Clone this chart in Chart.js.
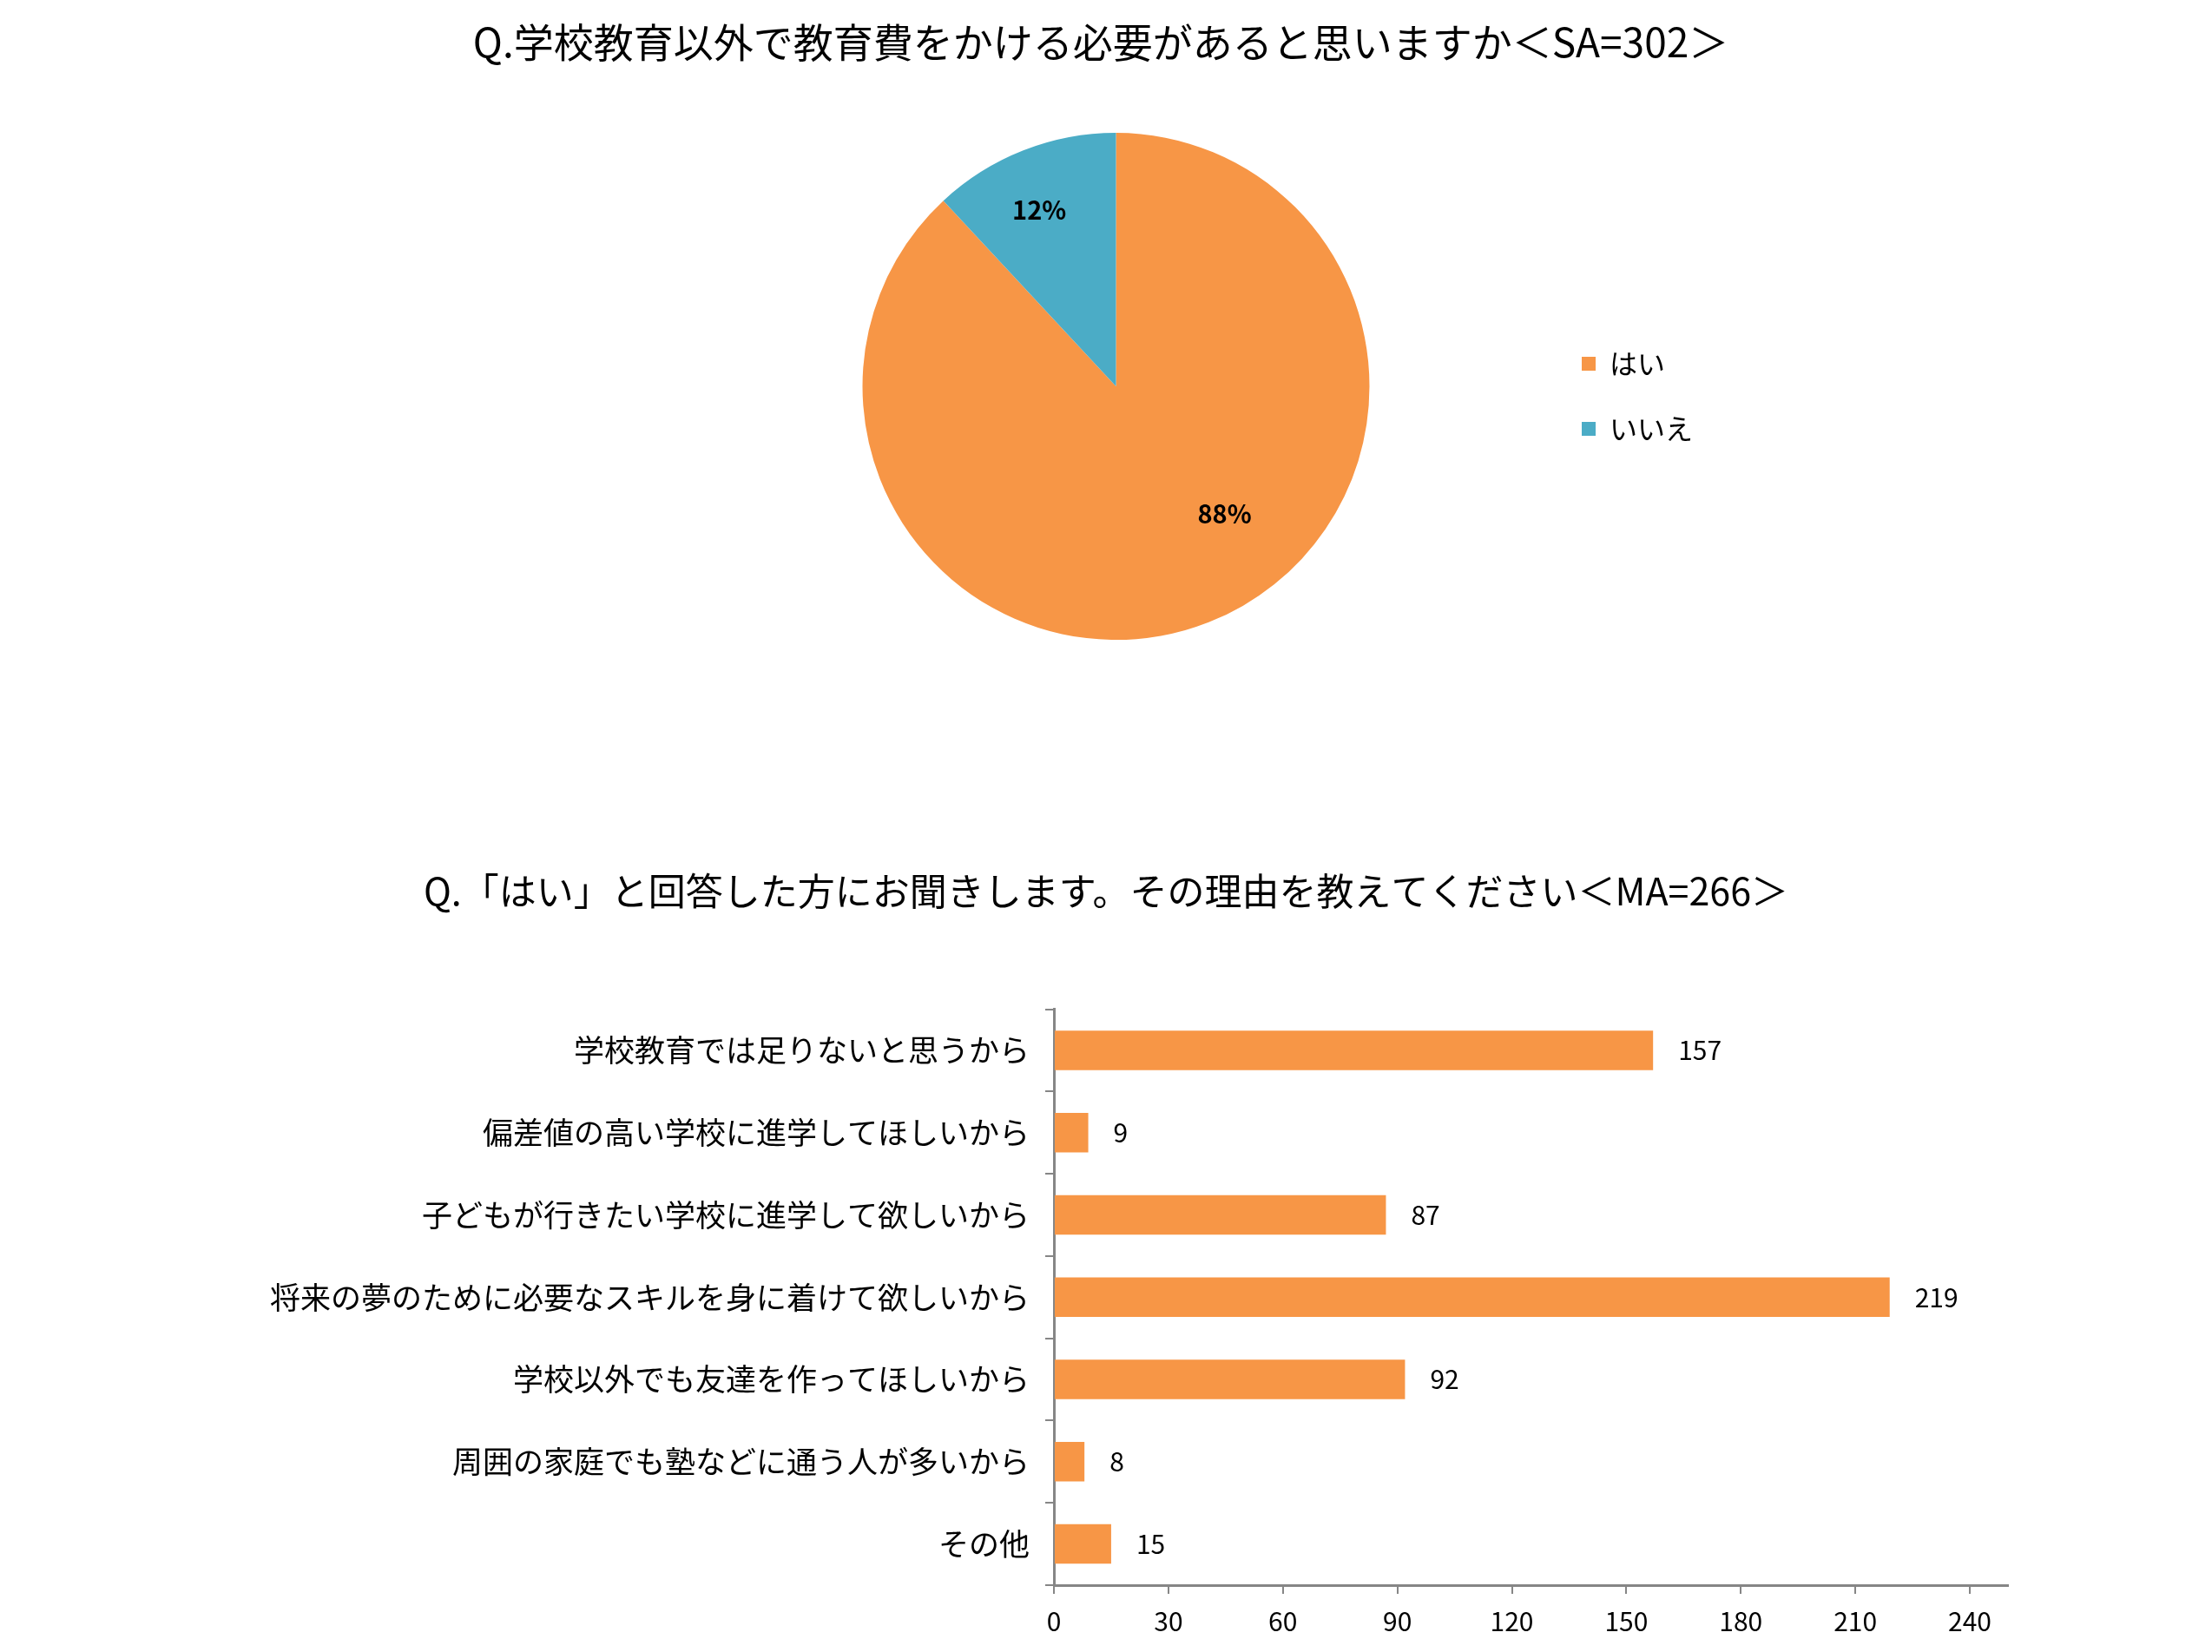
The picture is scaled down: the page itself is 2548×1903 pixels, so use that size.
<!DOCTYPE html>
<html lang="ja">
<head>
<meta charset="utf-8">
<title>教育費アンケート</title>
<script src="https://cdn.jsdelivr.net/npm/chart.js@4.4.1/dist/chart.umd.min.js"></script>
<style>
  html, body { margin: 0; padding: 0; background: #fff; }
  body { width: 2548px; height: 1903px; position: relative; overflow: hidden; }
  canvas { position: absolute; }
  #pie-chart { left: 500px; top: 0; }
  #bar-chart { left: 0; top: 980px; }
</style>
</head>
<body>
<canvas id="pie-chart" width="1536" height="814"></canvas>
<canvas id="bar-chart" width="2548" height="923"></canvas>
<script>
var JP = '"Noto Sans CJK JP", "Noto Sans", sans-serif';

// Q1 (SA=302)
var pieTitle = 'Q.学校教育以外で教育費をかける必要があると思いますか＜SA=302＞';
var pieLabels = ['はい', 'いいえ'];
var pieValues = [266, 36];
var pieColors = ['#F79646', '#4BACC6'];

// Q2 (MA=266)
var barTitle = 'Q.「はい」と回答した方にお聞きします。その理由を教えてください＜MA=266＞';
var barLabels = [
  '学校教育では足りないと思うから',
  '偏差値の高い学校に進学してほしいから',
  '子どもが行きたい学校に進学して欲しいから',
  '将来の夢のために必要なスキルを身に着けて欲しいから',
  '学校以外でも友達を作ってほしいから',
  '周囲の家庭でも塾などに通う人が多いから',
  'その他'
];
var barValues = [157, 9, 87, 219, 92, 8, 15];
var xMax = 250;
var xStep = 30;

var axisGray = '#868686';

// percent labels inside the slices
var pieLabelPlugin = {
  id: 'pieLabels',
  afterDatasetsDraw: function (chart, args, opts) {
    var ctx = chart.ctx;
    var meta = chart.getDatasetMeta(0);
    var values = chart.data.datasets[0].data;
    var total = values.reduce(function (a, b) { return a + b; }, 0);
    ctx.save();
    ctx.font = opts.font;
    ctx.fillStyle = opts.color;
    ctx.textAlign = 'center';
    ctx.textBaseline = 'middle';
    meta.data.forEach(function (arc, i) {
      var p = arc.getProps(['x', 'y', 'startAngle', 'endAngle', 'outerRadius'], true);
      var place = opts.placement[i];
      var a = (p.startAngle + p.endAngle) / 2 + place.shift * Math.PI / 180;
      var r = p.outerRadius * place.frac;
      ctx.fillText(Math.round(values[i] / total * 100) + '%', p.x + Math.cos(a) * r, p.y + Math.sin(a) * r);
    });
    ctx.restore();
  }
};

// nudges the plot area and the legend sideways so they sit like the original
// (the title keeps the whole canvas width)
var shiftAreaPlugin = {
  id: 'shiftArea',
  afterLayout: function (chart, args, opts) {
    chart.chartArea.left += opts.areaDx;
    chart.chartArea.right += opts.areaDx;
    if (chart.legend) {
      chart.legend.left += opts.legendDx;
      chart.legend.right += opts.legendDx;
    }
  }
};

// value labels at the end of the bars
var barValuePlugin = {
  id: 'barValues',
  afterDatasetsDraw: function (chart, args, opts) {
    var ctx = chart.ctx;
    var meta = chart.getDatasetMeta(0);
    var values = chart.data.datasets[0].data;
    ctx.save();
    ctx.font = opts.font;
    ctx.fillStyle = opts.color;
    ctx.textAlign = 'left';
    ctx.textBaseline = 'middle';
    meta.data.forEach(function (bar, i) {
      ctx.fillText(String(values[i]), bar.x + opts.gap, bar.y);
    });
    ctx.restore();
  }
};

var pieChart = new Chart(document.getElementById('pie-chart'), {
  type: 'pie',
  data: {
    labels: pieLabels,
    datasets: [{
      data: pieValues,
      backgroundColor: pieColors,
      borderWidth: 0,
      radius: 292
    }]
  },
  options: {
    responsive: false,
    animation: false,
    events: [],
    plugins: {
      title: {
        display: true,
        text: pieTitle,
        color: '#000',
        font: { family: JP, size: 46, weight: 'normal' },
        padding: { top: 21, bottom: 0 }
      },
      legend: {
        display: true,
        position: 'right',
        align: 'center',
        title: {
          display: true,
          text: ' ',
          font: { size: 10 },
          padding: { top: 87, bottom: 0 }
        },
        labels: {
          color: '#000',
          font: { family: JP, size: 32 },
          boxWidth: 16,
          boxHeight: 16,
          padding: 43
        }
      },
      tooltip: { enabled: false },
      shiftArea: { areaDx: 108, legendDx: -76 },
      pieLabels: {
        font: 'bold 29px ' + JP,
        color: '#000',
        placement: [{ shift: -19, frac: 0.66 }, { shift: -2, frac: 0.76 }]
      }
    }
  },
  plugins: [shiftAreaPlugin, pieLabelPlugin]
});

var barChart = new Chart(document.getElementById('bar-chart'), {
  type: 'bar',
  data: {
    labels: barLabels,
    datasets: [{
      data: barValues,
      backgroundColor: '#F79646',
      borderWidth: 0,
      categoryPercentage: 1,
      barPercentage: 0.48
    }]
  },
  options: {
    indexAxis: 'y',
    responsive: false,
    animation: false,
    events: [],
    layout: { padding: { right: 235, left: 235, top: 0, bottom: 0 } },
    scales: {
      x: {
        min: 0,
        max: xMax,
        afterFit: function (scale) { scale.height = 77; },
        ticks: {
          stepSize: xStep,
          includeBounds: false,
          color: '#000',
          font: { family: JP, size: 30 },
          padding: 14,
          maxRotation: 0
        },
        grid: {
          drawOnChartArea: false,
          drawTicks: true,
          tickLength: 10,
          color: axisGray,
          lineWidth: 2
        },
        border: { display: true, color: axisGray, width: 3 }
      },
      y: {
        afterFit: function (scale) { scale.width = 979; },
        ticks: {
          color: '#000',
          font: { family: JP, size: 35 },
          padding: 18
        },
        grid: {
          drawOnChartArea: false,
          drawTicks: true,
          tickLength: 10,
          offset: true,
          color: axisGray,
          lineWidth: 2
        },
        border: { display: true, color: axisGray, width: 3 }
      }
    },
    plugins: {
      title: {
        display: true,
        text: barTitle,
        color: '#000',
        font: { family: JP, size: 43, weight: 'normal' },
        padding: { top: 21, bottom: 110 }
      },
      legend: { display: false },
      tooltip: { enabled: false },
      barValues: {
        font: '30px ' + JP,
        color: '#000',
        gap: 29
      }
    }
  },
  plugins: [barValuePlugin]
});
</script>
</body>
</html>
